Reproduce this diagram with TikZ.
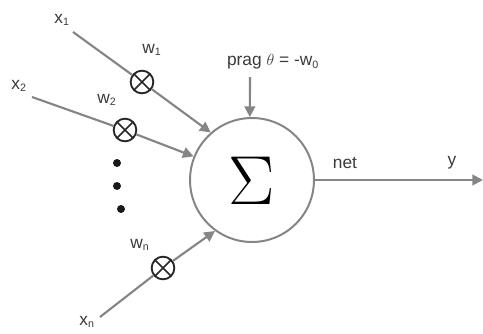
\documentclass[tikz,border=0pt]{standalone}
\usepackage{fontspec}
\newfontfamily\lblfont{Liberation Sans}
\newfontfamily\sigfont{Latin Modern Roman}
\usetikzlibrary{arrows.meta}
\definecolor{lgray}{HTML}{858585}
\definecolor{tgray}{HTML}{3A3A3A}
\newcommand\lsub[1]{\textsubscript{\fontsize{8}{8}\selectfont #1}}
\tikzset{
  conn/.style={draw=lgray, line width=1.6pt},
  arr/.style={conn, -{Triangle[length=8pt,width=8pt]}},
  mult/.style={circle, draw=black!85, line width=1.4pt, fill=white, minimum size=17pt, inner sep=0pt,
    path picture={\draw[black!85, line width=1.3pt] (path picture bounding box.north west) -- (path picture bounding box.south east)
      (path picture bounding box.north east) -- (path picture bounding box.south west);}},
  lbl/.style={font=\lblfont\fontsize{13}{15}\selectfont, text=tgray, inner sep=1pt},
  dotn/.style={circle, fill=black!90, minimum size=6pt, inner sep=0pt},
}
\begin{document}
\begin{tikzpicture}[x=0.75pt, y=-0.75pt]
\useasboundingbox (0,0) rectangle (483,333);
\node[circle, draw=lgray, line width=1.5pt, minimum size=93pt, inner sep=0pt] (sum) at (252,180) {};
\node[font=\sigfont\fontsize{52}{52}\selectfont, text=black, inner sep=0pt] (sig) at (252,181) {Σ};
% inputs
\node[lbl] (x1) at (62,20) {x\lsub{1}};
\node[lbl] (x2) at (19,86) {x\lsub{2}};
\node[lbl] (xn) at (87,322) {x\lsub{n}};
\coordinate (s1) at (73,32);
\coordinate (s2) at (32,97);
\coordinate (sn) at (100,317);
\node[mult] (m1) at (142,82) {};
\node[mult] (m2) at (125,130) {};
\node[mult] (mn) at (163,268) {};
\node[lbl] (w1) at (152,50) {w\lsub{1}};
\node[lbl] (w2) at (107,100) {w\lsub{2}};
\node[lbl] (wn) at (140,245) {w\lsub{n}};
\draw[conn] (s1) -- (m1);
\draw[conn] (s2) -- (m2);
\draw[conn] (sn) -- (mn);
\draw[arr] (m1) -- (sum.131);
\draw[arr] (m2) -- (sum.158);
\draw[arr] (mn) -- (sum.234);
% dots
\node[dotn] (d1) at (117,163) {};
\node[dotn] (d2) at (117,186) {};
\node[dotn] (d3) at (121,209) {};
% bias
\node[lbl] (bias) at (273,62) {prag $\theta$ = -w\lsub{0}};
\coordinate (b0) at (250,77);
\draw[arr] (b0) -- (sum.92);
% output
\coordinate (out) at (483,180);
\draw[arr] (sum.east) -- (out);
\node[lbl] (net) at (345,163) {net};
\node[lbl] (y) at (452,163) {y};
\end{tikzpicture}
\end{document}
